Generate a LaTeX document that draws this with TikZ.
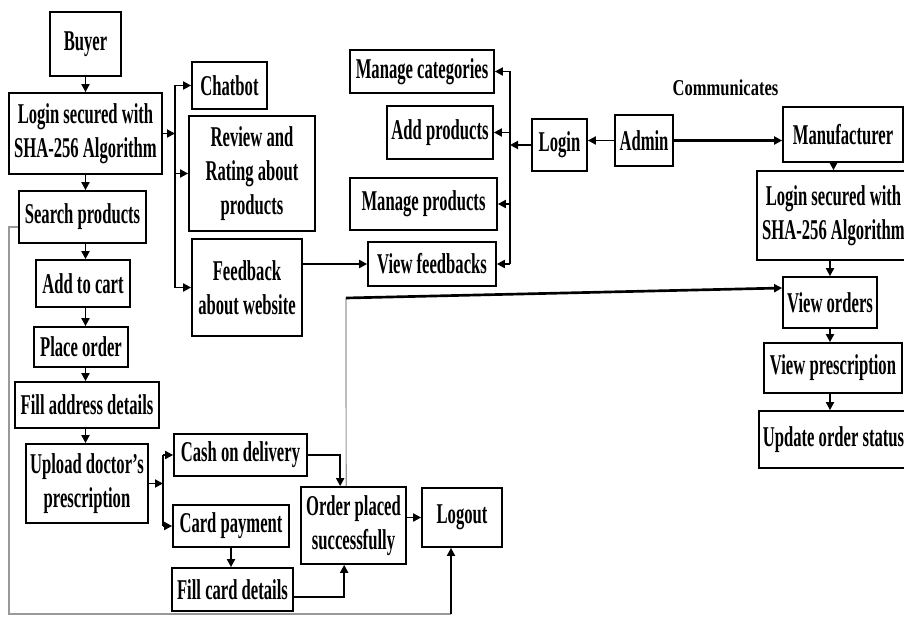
\documentclass[tikz,border=0pt]{standalone}
\usepackage{fontspec}
\usetikzlibrary{arrows.meta}
\newfontfamily\boxfont[FakeStretch=0.58]{Liberation Serif}
\newfontfamily\notefont[FakeStretch=0.73]{Liberation Serif}
\tikzset{
  box/.style={draw, line width=1.3pt, align=center, inner sep=1pt,
    font=\boxfont\bfseries\fontsize{21.5}{25.5}\selectfont},
  wh/.style 2 args={minimum width=#1*0.75pt, minimum height=#2*0.75pt},
  arr/.style={-{Triangle[length=6pt,width=6pt]}, line width=1.4pt},
  longarr/.style={arr, line width=2pt},
  bus/.style={line width=1.4pt},
  loopline/.style={draw=gray!80, line width=0.9pt}
}

\begin{document}
\begin{tikzpicture}[x=0.75pt,y=-0.75pt]
   \useasboundingbox (0,0) rectangle (904,617);
   % buyer column
   \node[box,wh={71}{64}]  (buyer)   at (85.5,44)   {Buyer};
   \node[box,wh={153}{81}] (loginb)  at (85.5,133.5) {Login secured with\\SHA-256 Algorithm};
   \node[box,wh={127}{52}] (search)  at (82.5,217)  {Search products};
   \node[box,wh={94}{47}]  (cart)    at (83,283.5)  {Add to cart};
   \node[box,wh={94}{40}]  (place)   at (81,347)    {Place order};
   \node[box,wh={144}{46}] (address) at (87,405)    {Fill address details};
   \node[box,wh={122}{79}] (upload)  at (87,483.5)  {Upload doctor’s\\prescription};
   % buyer options
   \node[box,wh={75}{47}]   (chatbot)  at (229.5,85.5) {Chatbot};
   \node[box,wh={126}{115}] (review)   at (252,173.5)  {Review and\\Rating about\\products};
   \node[box,wh={110}{97}]  (feedback) at (247,287.5)  {Feedback\\about website};
   % payment
   \node[box,wh={133}{42}] (cash)     at (240.5,455)   {Cash on delivery};
   \node[box,wh={116}{42}] (card)     at (231,526)     {Card payment};
   \node[box,wh={121}{43}] (fillcard) at (232.5,589.5) {Fill card details};
   \node[box,wh={105}{77}] (order)    at (353.5,525.5) {Order placed\\successfully};
   \node[box,wh={80}{59}]  (logout)   at (462,517.5)   {Logout};
   % admin side
   \node[box,wh={144}{43}] (mcat)     at (422,71.5)   {Manage categories};
   \node[box,wh={106}{53}] (addprod)  at (440,132.5)  {Add products};
   \node[box,wh={147}{52}] (mprod)    at (423.5,204)  {Manage products};
   \node[box,wh={128}{44}] (vfeed)    at (432,264)    {View feedbacks};
   \node[box,wh={55}{52}]  (logina)   at (559.5,145)  {Login};
   \node[box,wh={58}{51}]  (admin)    at (644,140.5)  {Admin};
   \node[font=\notefont\bfseries\fontsize{17}{20}\selectfont] (comm) at (725.5,88) {Communicates};
   % manufacturer column
   \node[box,wh={120}{55}] (manu)    at (843,134.5)   {Manufacturer};
   \node[box,wh={153}{89}] (loginm)  at (833.5,215.5) {Login secured with\\SHA-256 Algorithm};
   \node[box,wh={94}{51}]  (vorders) at (830,302.5)   {View orders};
   \node[box,wh={138}{50}] (vpresc)  at (833,368)     {View prescription};
   \node[box,wh={149}{57}] (update)  at (833.5,439.5) {Update order status};
   \coordinate (bbus) at (175,0);
   \coordinate (ubus) at (163,0);
   \coordinate (abus) at (510,0);
   \coordinate (loopl) at (9,614);
   \coordinate (loopr) at (451,614);
   \coordinate (vbend) at (346,298);
   % buyer flow
   \draw[arr] (buyer.south) -- (buyer.south |- loginb.north);
   \draw[arr] (loginb.south) -- (loginb.south |- search.north);
   \draw[arr] (loginb.south |- search.south) -- (loginb.south |- cart.north);
   \draw[arr] (loginb.south |- cart.south) -- (loginb.south |- place.north);
   \draw[arr] (loginb.south |- place.south) -- (loginb.south |- address.north);
   \draw[arr] (loginb.south |- address.south) -- (loginb.south |- upload.north);
   \draw[arr] (loginb.east) -- (loginb.east -| bbus);
   \draw[bus] (bbus |- chatbot.west) -- (bbus |- feedback.west);
   \draw[arr] (bbus |- chatbot.west) -- (chatbot.west);
   \draw[arr] (bbus |- review.west) -- (review.west);
   \draw[arr] (bbus |- feedback.west) -- (feedback.west);
   \draw[longarr] (feedback.east |- vfeed.west) -- (vfeed.west);
   \draw[arr] (upload.east) -- (upload.east -| ubus);
   \draw[bus] (ubus |- cash.west) -- (ubus |- card.west);
   \draw[arr] (ubus |- cash.west) -- (cash.west);
   \draw[arr] (ubus |- card.west) -- (card.west);
   \draw[arr] (card.south) -- (card.south |- fillcard.north);
   \draw[arr] (cash.east) -| ([xshift=-10pt]order.north);
   \draw[arr] ([yshift=-5.5pt]fillcard.east) -| ([xshift=-7pt]order.south);
   \draw[arr] (order.east |- logout.west) -- (logout.west);
   \draw[loopline] ([yshift=-7.5pt]search.west) -| (loopl) -- (loopr);
   \draw[arr] (loopr) -- (loopr |- logout.south);
   \draw[loopline] ([xshift=-5.5pt]order.north) -- (vbend);
   \draw[longarr] (vbend) -- (vorders.west |- 0,288);
   % admin flow
   \draw[arr] (admin.west) -- (admin.west -| logina.east);
   \draw[arr] (logina.west) -- (logina.west -| abus);
   \draw[bus] (abus |- mcat.east) -- (abus |- vfeed.east);
   \draw[arr] (abus |- mcat.east) -- (mcat.east);
   \draw[arr] (abus |- addprod.east) -- (addprod.east);
   \draw[arr] (abus |- mprod.east) -- (mprod.east);
   \draw[arr] (abus |- vfeed.east) -- (vfeed.east);
   \draw[longarr] (admin.east) -- (admin.east -| manu.west);
   % manufacturer flow
   \draw[arr] (manu.south -| loginm.north) -- (loginm.north);
   \draw[arr] (loginm.south -| vorders.north) -- (vorders.north);
   \draw[arr] (vorders.south) -- (vorders.south |- vpresc.north);
   \draw[arr] (vorders.south |- vpresc.south) -- (vorders.south |- update.north);
\end{tikzpicture}
\end{document}
